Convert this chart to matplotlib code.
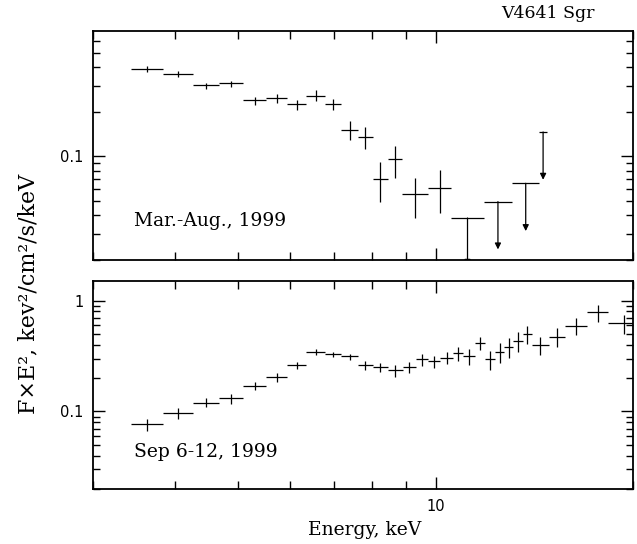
import matplotlib
matplotlib.use('Agg')
import matplotlib.pyplot as plt
from matplotlib.ticker import FixedLocator, NullFormatter, FixedFormatter
from matplotlib.patches import FancyArrowPatch
import numpy as np

# ---------------- data ----------------
# Top panel: Mar.-Aug., 1999 (detections)
top_elo = [3.43, 3.83, 4.26, 4.67, 5.09, 5.51, 5.93, 6.35, 6.78, 7.18, 7.61, 8.01, 8.46, 8.87, 9.72]
top_ehi = [3.83, 4.26, 4.67, 5.09, 5.51, 5.93, 6.35, 6.78, 7.18, 7.61, 8.01, 8.46, 8.87, 9.72, 10.57]
top_flux = [0.390, 0.361, 0.301, 0.311, 0.239, 0.247, 0.224, 0.256, 0.224, 0.151, 0.135, 0.0703, 0.0960, 0.0554, 0.0612]
top_fhi = [0.405, 0.374, 0.312, 0.324, 0.251, 0.264, 0.241, 0.279, 0.244, 0.172, 0.158, 0.0912, 0.118, 0.0711, 0.0805]
top_flo = [0.370, 0.343, 0.286, 0.292, 0.222, 0.229, 0.204, 0.235, 0.204, 0.129, 0.112, 0.049, 0.0714, 0.0384, 0.0415]

# Top panel: upper limits
ul_elo = [10.57, 11.83, 13.09, 14.38]
ul_ehi = [11.83, 13.09, 14.38, 14.79]
ul_flux = [0.0384, 0.0495, 0.0658, 0.146]

# Bottom panel: Sep 6-12, 1999
bot_elo = [3.43, 3.83, 4.26, 4.67, 5.09, 5.51, 5.93, 6.35, 6.78, 7.18, 7.61, 8.01,
           8.46, 8.90, 9.33, 9.74, 10.17, 10.61, 11.02, 11.48, 11.89, 12.31, 12.73,
           13.13, 13.57, 14.01, 14.89, 15.75, 17.03, 18.34]
bot_ehi = [3.83, 4.26, 4.67, 5.09, 5.51, 5.93, 6.35, 6.78, 7.18, 7.61, 8.01, 8.46,
           8.90, 9.33, 9.74, 10.17, 10.61, 11.02, 11.48, 11.89, 12.31, 12.73, 13.13,
           13.57, 14.01, 14.89, 15.75, 17.03, 18.34, 20.5]
bot_flux = [0.0764, 0.0966, 0.1197, 0.131, 0.170, 0.204, 0.261, 0.345, 0.329, 0.313, 0.260, 0.252,
            0.237, 0.2505, 0.296, 0.286, 0.306, 0.335, 0.317, 0.418, 0.296, 0.347, 0.379,
            0.433, 0.500, 0.398, 0.473, 0.590, 0.784, 0.624]
bot_fhi = [0.0847, 0.1064, 0.131, 0.144, 0.186, 0.221, 0.282, 0.364, 0.347, 0.333, 0.284, 0.276,
           0.263, 0.282, 0.330, 0.317, 0.347, 0.379, 0.366, 0.473, 0.354, 0.418, 0.457,
           0.518, 0.590, 0.473, 0.563, 0.692, 0.913, 0.742]
bot_flo = [0.0665, 0.0859, 0.1087, 0.117, 0.155, 0.186, 0.241, 0.324, 0.309, 0.292, 0.237, 0.229,
           0.206, 0.221, 0.257, 0.245, 0.267, 0.288, 0.263, 0.359, 0.237, 0.276, 0.306,
           0.347, 0.406, 0.324, 0.385, 0.490, 0.646, 0.500]

x_ticks_minor = [3, 4, 5, 6, 7, 8, 9, 20]
x_ticks_major = [10]
x_ticklabels = ['10']

SERIF = 'DejaVu Serif'
TICKFONT = 'DejaVu Sans'

# ---------------- figure ----------------
W, H = 637, 544
fig = plt.figure(figsize=(W / 100, H / 100), dpi=100)
ax1 = fig.add_axes([93 / W, 1 - 260 / H, 540 / W, 229 / H])
ax2 = fig.add_axes([93 / W, 1 - 489 / H, 540 / W, 208 / H])


def errbars(ax, elo, ehi, f, flo, fhi):
    elo, ehi, f, flo, fhi = map(np.asarray, (elo, ehi, f, flo, fhi))
    ec = np.sqrt(elo * ehi)
    ax.errorbar(ec, f, xerr=[ec - elo, ehi - ec], yerr=[f - flo, fhi - f],
                fmt='none', ecolor='black', elinewidth=0.9, capsize=0)


def style(ax, ylim, ymajor, ylabels, yminor, xlabels):
    ax.set_xscale('log')
    ax.set_yscale('log')
    ax.set_xlim(3, 20)
    ax.set_ylim(*ylim)
    ax.xaxis.set_major_locator(FixedLocator(x_ticks_major))
    ax.xaxis.set_minor_locator(FixedLocator(x_ticks_minor))
    ax.xaxis.set_minor_formatter(NullFormatter())
    if xlabels:
        ax.xaxis.set_major_formatter(FixedFormatter(x_ticklabels))
    else:
        ax.xaxis.set_major_formatter(NullFormatter())
    ax.yaxis.set_major_locator(FixedLocator(ymajor))
    ax.yaxis.set_major_formatter(FixedFormatter(ylabels))
    ax.yaxis.set_minor_locator(FixedLocator(yminor))
    ax.yaxis.set_minor_formatter(NullFormatter())
    ax.tick_params(which='both', direction='in', top=True, right=True,
                   width=1.0, color='black')
    ax.tick_params(which='major', length=8.5, pad=7)
    ax.tick_params(axis='x', which='minor', length=6)
    ax.tick_params(axis='y', which='minor', length=5)
    for lab in ax.get_xticklabels() + ax.get_yticklabels():
        lab.set_fontfamily(TICKFONT)
        lab.set_fontsize(10.5)
    for s in ax.spines.values():
        s.set_linewidth(1.3)


# top panel
errbars(ax1, top_elo, top_ehi, top_flux, top_flo, top_fhi)
ul_elo_a = np.asarray(ul_elo)
ul_ehi_a = np.asarray(ul_ehi)
ul_f = np.asarray(ul_flux)
ul_ec = np.sqrt(ul_elo_a * ul_ehi_a)
ax1.errorbar(ul_ec, ul_f, xerr=[ul_ec - ul_elo_a, ul_ehi_a - ul_ec], fmt='none',
             ecolor='black', elinewidth=0.9, capsize=0)
for xc, fv in zip(ul_ec, ul_f):
    arr = FancyArrowPatch((xc, fv), (xc, fv / 2.1), arrowstyle='-|>,head_length=0.6,head_width=0.3',
                          mutation_scale=6, shrinkA=0, shrinkB=0, lw=0.9, color='black')
    ax1.add_patch(arr)

style(ax1, (0.02, 0.7), [0.1], ['0.1'],
      [0.02, 0.03, 0.04, 0.05, 0.06, 0.07, 0.08, 0.09, 0.2, 0.3, 0.4, 0.5, 0.6], False)

# bottom panel
errbars(ax2, bot_elo, bot_ehi, bot_flux, bot_flo, bot_fhi)
style(ax2, (0.02, 1.5), [0.1, 1], ['0.1', '1'],
      [0.02, 0.03, 0.04, 0.05, 0.06, 0.07, 0.08, 0.09,
       0.2, 0.3, 0.4, 0.5, 0.6, 0.7, 0.8, 0.9], True)

ax1.text(0.075, 0.17, 'Mar.-Aug., 1999', transform=ax1.transAxes, fontfamily=SERIF,
         fontsize=13.5, va='center', ha='left')
ax2.text(0.075, 0.18, 'Sep 6-12, 1999', transform=ax2.transAxes, fontfamily=SERIF,
         fontsize=13.5, va='center', ha='left')

fig.text(548 / W, 1 - 14 / H, 'V4641 Sgr', fontfamily=SERIF, fontsize=12.5,
         ha='center', va='center')
fig.text(365 / W, 1 - 530 / H, 'Energy, keV', fontfamily=SERIF, fontsize=13.5,
         ha='center', va='center')
fig.text(28 / W, 1 - 294 / H, 'F×E², kev²/cm²/s/keV', fontfamily=SERIF, fontsize=16,
         ha='center', va='center', rotation=90)

fig.savefig('out.png', dpi=100)
